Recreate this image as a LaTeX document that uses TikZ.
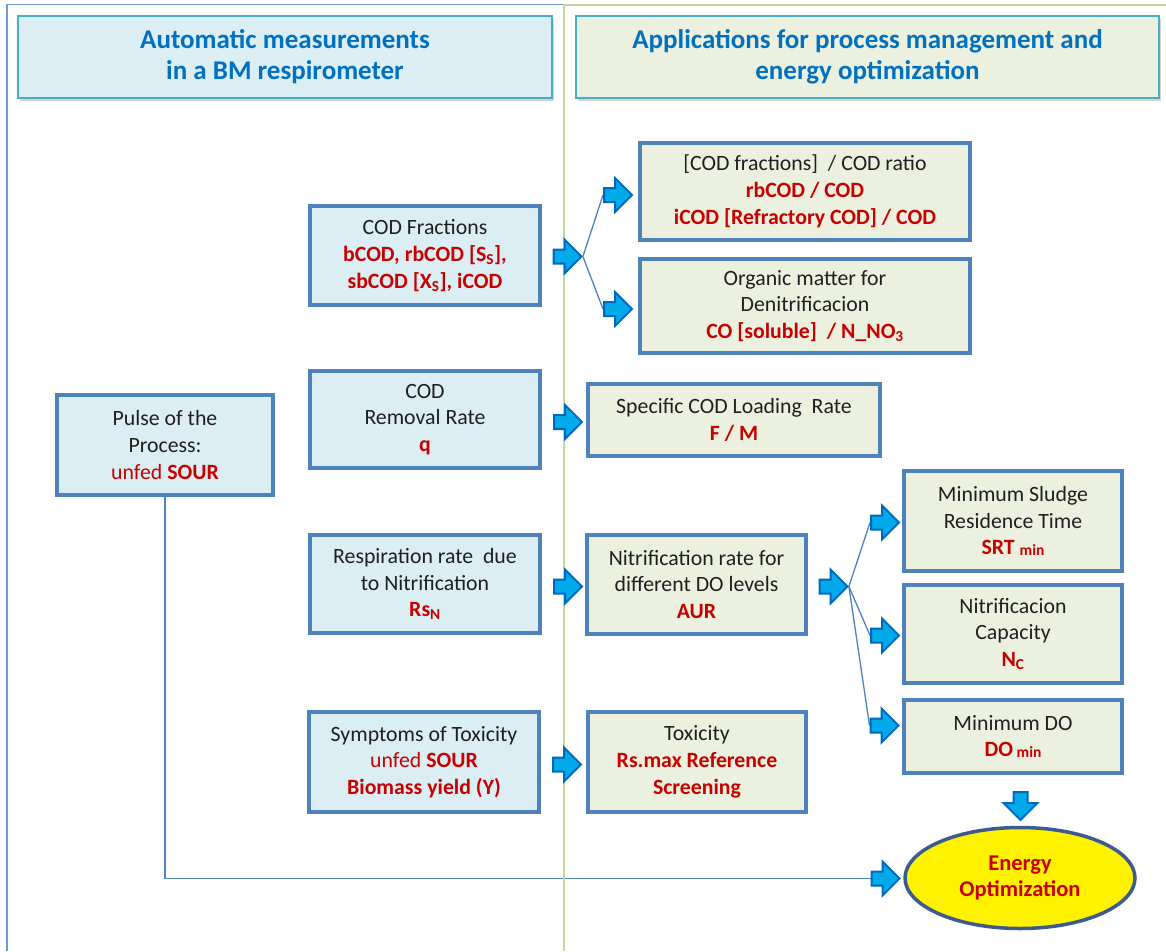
\documentclass[tikz,border=0pt]{standalone}
\usepackage{fontspec}
\setmainfont{Carlito}
\usetikzlibrary{shapes.arrows,shapes.geometric,shadows}
\definecolor{boxline}{RGB}{79,129,189}
\definecolor{lblue}{RGB}{219,238,244}
\definecolor{lgreen}{RGB}{235,241,222}
\definecolor{hdrline}{RGB}{75,172,198}
\definecolor{hdrtext}{RGB}{0,112,192}
\definecolor{dred}{RGB}{200,0,0}
\definecolor{arrfill}{RGB}{0,170,235}
\definecolor{arrline}{RGB}{0,105,190}
\definecolor{frameblue}{RGB}{110,155,215}
\definecolor{framegreen}{RGB}{195,214,155}
\definecolor{ellline}{RGB}{60,90,140}
\newcommand\rb[1]{\textcolor{dred}{\bfseries #1}}
\newcommand\rn[1]{\textcolor{dred}{#1}}
\newcommand\sbs[1]{\textsubscript{#1}}
\newcommand\smin{\raisebox{-1pt}{\fontsize{15.5}{15.5}\selectfont min}}
\pgfdeclarelayer{bg}
\pgfsetlayers{bg,main}
\begin{document}
\begin{tikzpicture}[x=1pt,y=-1pt,
  hdr/.style={draw=hdrline,line width=1.5pt,inner sep=0pt,align=center,
    font=\fontsize{27}{31}\selectfont\bfseries,text=hdrtext,
    drop shadow={opacity=0.35,shadow xshift=2pt,shadow yshift=-3pt}},
  box/.style={draw=boxline,line width=3.5pt,inner sep=0pt,align=center,
    font=\fontsize{21.8}{26.8}\selectfont,text=black!88},
  lbox/.style={box,fill=lblue},
  rbox/.style={box,fill=lgreen},
  barrow/.style={single arrow,draw=arrline,fill=arrfill,line width=2pt,
    inner sep=6pt,single arrow head extend=10pt,minimum height=28pt},
  thinline/.style={draw=boxline,line width=1.3pt}]
\useasboundingbox (0,0) rectangle (1166,951);
% frames
\draw[frameblue,line width=1.5pt] (7,951) -- (7,4.5) -- (563,4.5);
\draw[framegreen,line width=1.5pt] (564,951) -- (564,5) -- (1166,5);
% headers
\node[hdr,fill=lblue,minimum width=534pt,minimum height=82pt] (h1) at (285,57)
  {Automatic measurements\\ in a BM respirometer};
\node[hdr,fill=lgreen,minimum width=583pt,minimum height=82pt] (h2) at (867.5,57)
  {Applications for process management and\\ energy optimization};
% left boxes
\node[lbox,minimum width=230pt,minimum height=99pt] (codf) at (425,255.5)
  {COD Fractions\\ \rb{bCOD, rbCOD [S\sbs{S}],}\\ \rb{sbCOD [X\sbs{S}], iCOD}};
\node[lbox,minimum width=230pt,minimum height=97pt] (codrem) at (425,419.5)
  {COD\\ Removal Rate\\ \rb{q}};
\node[lbox,minimum width=216pt,minimum height=100pt] (pulse) at (165,445)
  {Pulse of the\\ Process:\\ \rn{unfed} \rb{SOUR}};
\node[lbox,minimum width=230pt,minimum height=98pt] (resp) at (425,584)
  {Respiration rate\ \ due\\ to Nitrification\\ \rb{Rs\sbs{N}}};
\node[lbox,minimum width=230pt,minimum height=100pt] (sympt) at (424,762)
  {Symptoms of Toxicity\\ \rn{unfed} \rb{SOUR}\\ \rb{Biomass yield (Y)}};
% right boxes
\node[rbox,minimum width=330pt,minimum height=97pt] (codratio) at (805,191.5)
  {[COD fractions]\ \ / COD ratio\\ \rb{rbCOD / COD}\\ \rb{iCOD [Refractory COD] / COD}};
\node[rbox,minimum width=330pt,minimum height=94pt] (organic) at (805,306)
  {Organic matter for\\ Denitrificacion\\ \rb{CO [soluble]\ \ / N\_NO\sbs{3}}};
\node[rbox,minimum width=292pt,minimum height=72pt] (specific) at (734,420)
  {Specific COD Loading\ \ Rate\\ \rb{F / M}};
\node[rbox,minimum width=219pt,minimum height=99pt] (nitr) at (696.5,584.5)
  {Nitrification rate for\\ different DO levels\\ \rb{AUR}};
\node[rbox,minimum width=218pt,minimum height=100pt] (tox) at (697,762)
  {Toxicity\\ \rb{Rs.max Reference}\\ \rb{Screening}};
\node[rbox,minimum width=218pt,minimum height=100pt] (srt) at (1013,521)
  {Minimum Sludge\\ Residence Time\\ \rb{SRT \smin}};
\node[rbox,minimum width=218pt,minimum height=98pt] (ncap) at (1013,634)
  {Nitrificacion\\ Capacity\\ \rb{N\sbs{C}}};
\node[rbox,minimum width=218pt,minimum height=73pt] (mindo) at (1013,736.5)
  {Minimum DO\\ \rb{DO\,\smin}};
\node[ellipse,draw=ellline,line width=3.5pt,fill=yellow,inner sep=0pt,
  minimum width=230pt,minimum height=101pt,align=center,
  font=\fontsize{22.5}{26.5}\selectfont] (energy) at (1020,878)
  {\rb{Energy}\\ \rb{Optimization}};
% block arrows
\node[barrow] (a1) at (564,256.5) {};
\node[barrow] (a1u) at (614.5,195) {};
\node[barrow] (a1d) at (614.5,309) {};
\node[barrow] (a2) at (564.5,422) {};
\node[barrow] (a3) at (564.5,586.5) {};
\node[barrow] (a4) at (563.5,764.5) {};
\node[barrow] (a5) at (830,586.5) {};
\node[barrow] (a5u) at (881.5,522.5) {};
\node[barrow] (a5m) at (881.5,635.5) {};
\node[barrow] (a5d) at (881,725.5) {};
\node[barrow,rotate=-90] (adown) at (1020.5,802.5) {};
\node[barrow] (aen) at (882,878.5) {};
% thin connectors
\begin{pgfonlayer}{bg}
\draw[thinline] (a1.tip) -- (a1u.tail);
\draw[thinline] (a1.tip) -- (a1d.tail);
\draw[thinline] (a5.tip) -- (a5u.tail);
\draw[thinline] (a5.tip) -- (a5m.tail);
\draw[thinline] (a5.tip) -- (a5d.tail);
\draw[thinline] (pulse.south) |- (aen.tail);
\end{pgfonlayer}
\end{tikzpicture}
\end{document}
